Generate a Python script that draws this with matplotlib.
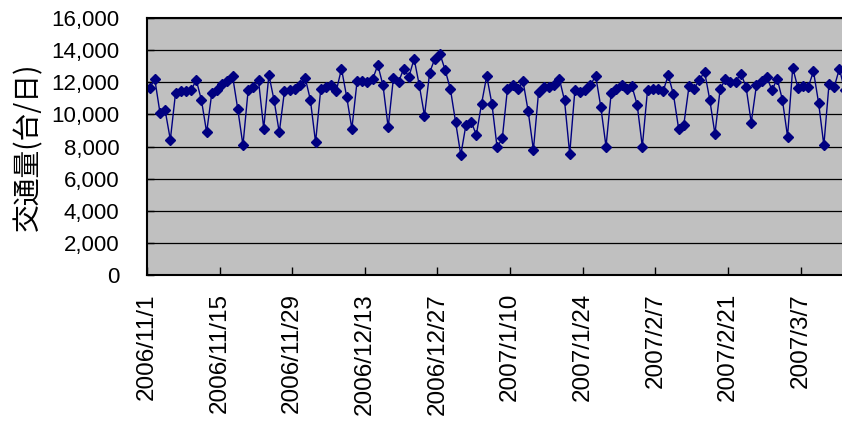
import numpy as np
import pandas as pd
import matplotlib
matplotlib.use("Agg")
import matplotlib.pyplot as plt
from matplotlib.ticker import FuncFormatter

# daily traffic counts (vehicles / day)
start_date = "2006-11-01"
traffic = [
    11650, 12200, 10100, 10250, 8420, 11330, 11450, 11450, 11500, 12140,
    10880, 8880, 11340, 11520, 11890, 12070, 12380, 10330, 8080, 11500,
    11700, 12110, 9120, 12450, 10880, 8880, 11430, 11530, 11590, 11800,
    12280, 10900, 8260, 11580, 11680, 11820, 11470, 12840, 11090, 9110,
    12050, 12090, 12030, 12180, 13070, 11810, 9190, 12235, 12035, 12830,
    12350, 13460, 11810, 9920, 12600, 13477, 13750, 12745, 11570, 9525,
    7470, 9360, 9545, 8725, 10655, 12390, 10655, 7950, 8500, 11600,
    11806, 11550, 12065, 10185, 7785, 11400, 11720, 11730, 11806, 12225,
    10870, 7535, 11510, 11400, 11510, 11816, 12410, 10455, 7995, 11340,
    11550, 11825, 11610, 11750, 10610, 7995, 11500, 11570, 11570, 11430,
    12440, 11240, 9110, 9360, 11740, 11610, 12130, 12660, 10920, 8780,
    11550, 12200, 12040, 12040, 12540, 11710, 9490, 11810, 12060, 12330,
    11500, 12220, 10920, 8620, 12910, 11640, 11760, 11710, 12680, 10690,
    8080, 11890, 11700, 12850, 11500,
]
tick_step_days = 14
visible_days = 134
y_label = "交通量(台/日)"

days = pd.date_range(start_date, periods=len(traffic), freq="D")
x = days + pd.Timedelta(hours=12)  # Excel puts each point mid-day

fig = plt.figure(figsize=(8.42, 4.33), dpi=100)
ax = fig.add_axes([147 / 842, 1 - 275 / 433, 1 - 147 / 842, (275 - 18) / 433])
ax.set_facecolor("#c0c0c0")

ax.plot(x, traffic, color="#000080", lw=1.0, marker="D", markersize=4.8,
        markerfacecolor="#000080", markeredgecolor="#000080")

ax.set_ylim(0, 16000)
ax.set_yticks(np.arange(0, 16001, 2000))
ax.yaxis.set_major_formatter(FuncFormatter(lambda v, p: f"{int(v):,}"))
ax.grid(axis="y", color="black", lw=0.9)
ax.set_axisbelow(True)

x0 = pd.Timestamp(start_date)
ax.set_xlim(x0, x0 + pd.Timedelta(days=visible_days))
ticks = pd.date_range(start_date, x0 + pd.Timedelta(days=visible_days), freq=f"{tick_step_days}D")
ax.set_xticks(ticks)
ax.set_xticklabels([f"{d.year}/{d.month}/{d.day}" for d in ticks],
                   rotation=90, va="top", ha="center")

for lab in ax.get_xticklabels():
    lab.set_fontfamily("Liberation Sans")
    lab.set_fontsize(17.5)
for lab in ax.get_yticklabels():
    lab.set_fontfamily("Liberation Sans")
    lab.set_fontsize(16)
ax.tick_params(axis="x", direction="in", length=6, width=1, pad=13)
ax.tick_params(axis="y", direction="in", length=5, width=1, pad=20)

for side in ["left", "bottom", "top"]:
    ax.spines[side].set_color("black")
    ax.spines[side].set_linewidth(1.5)
ax.spines["right"].set_visible(False)

fig.text(28 / 842, 1 - 147 / 433, y_label, rotation=90, ha="center", va="center",
         fontsize=20, family=["Noto Sans CJK JP", "DejaVu Sans"])

fig.savefig("out.png", dpi=100)
